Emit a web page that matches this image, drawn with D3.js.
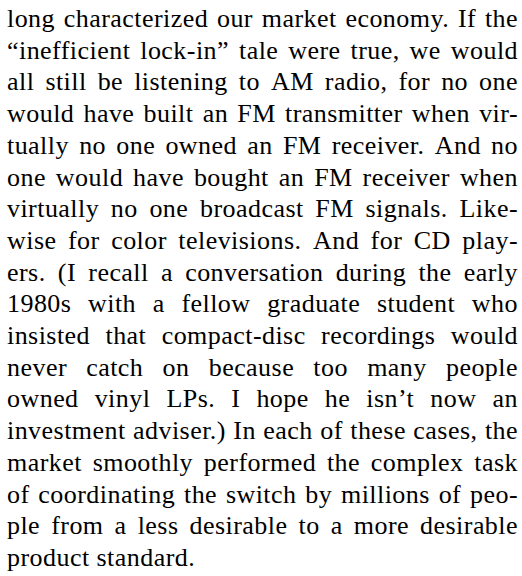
<!DOCTYPE html>
<html>
<head>
<meta charset="utf-8">
<script src="https://cdn.jsdelivr.net/npm/d3@7"></script>
<style>
  html, body { margin: 0; padding: 0; background: #fff; }
</style>
</head>
<body>
<svg id="main-svg" width="522" height="576"></svg>
<script>
// one entry per printed line, last line is left ragged
var lines = [
  "long characterized our market economy. If the",
  "\u201Cinefficient lock-in\u201D tale were true, we would",
  "all still be listening to AM radio, for no one",
  "would have built an FM transmitter when vir-",
  "tually no one owned an FM receiver. And no",
  "one would have bought an FM receiver when",
  "virtually no one broadcast FM signals. Like-",
  "wise for color televisions. And for CD play-",
  "ers. (I recall a conversation during the early",
  "1980s with a fellow graduate student who",
  "insisted that compact-disc recordings would",
  "never catch on because too many people",
  "owned vinyl LPs. I hope he isn\u2019t now an",
  "investment adviser.) In each of these cases, the",
  "market smoothly performed the complex task",
  "of coordinating the switch by millions of peo-",
  "ple from a less desirable to a more desirable",
  "product standard."
];
var justified = lines.map(function(d, i){ return i < lines.length - 1; });

var fontSize = 26;
var tracking = 0.45;
var left = 7, right = 518;
var firstBase = 27, lastBase = 566;

var svg = d3.select("#main-svg");

var y = d3.scaleLinear()
    .domain([0, lines.length - 1])
    .range([firstBase, lastBase]);

// flatten to one record per word
var words = [];
lines.forEach(function(str, i){
  str.split(" ").forEach(function(w, j){
    words.push({line: i, idx: j, text: w});
  });
});

var wordText = svg.append("g").attr("class", "words")
    .selectAll("text")
    .data(words).enter()
    .append("text")
    .attr("font-family", "Liberation Serif")
    .attr("font-size", fontSize)
    .attr("letter-spacing", tracking)
    .attr("fill", "#000")
    .attr("y", function(d){ return y(d.line); })
    .text(function(d){ return d.text; });

wordText.each(function(d){ d.w = this.getComputedTextLength(); });

// justify: spread the gaps so every full line reaches the right edge
var byLine = d3.group(words, function(d){ return d.line; });
byLine.forEach(function(ws, i){
  var total = d3.sum(ws, function(d){ return d.w; });
  var gap = fontSize * 0.25 + tracking;
  if (justified[i] && ws.length > 1) gap = (right - left - total) / (ws.length - 1);
  var x = left;
  ws.forEach(function(d){ d.x = x; x += d.w + gap; });
});

wordText.attr("x", function(d){ return d.x; });
</script>
</body>
</html>
